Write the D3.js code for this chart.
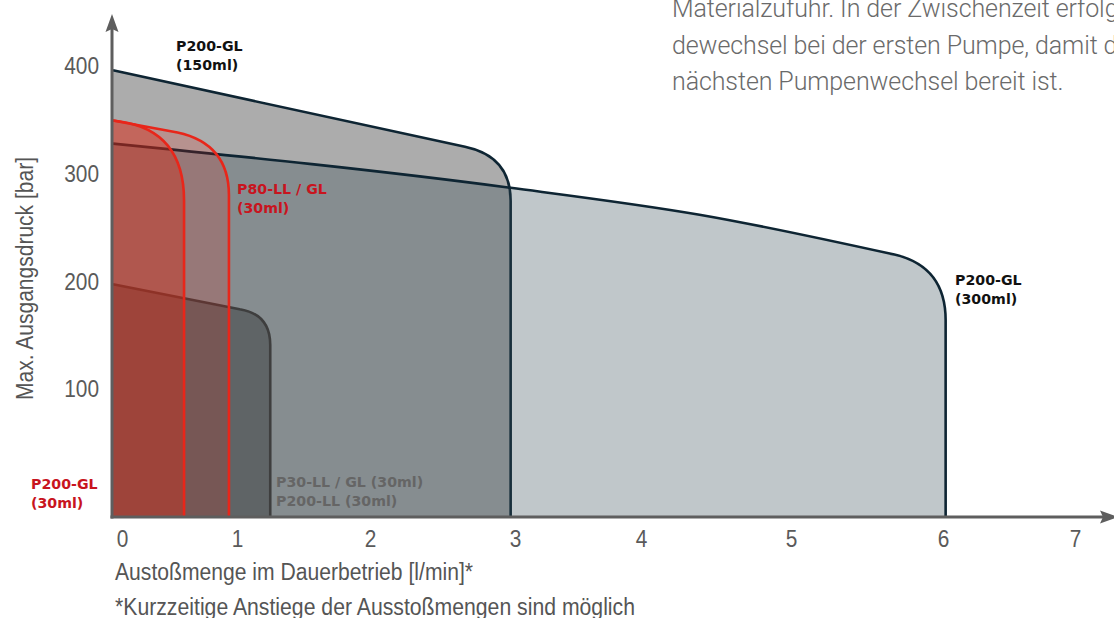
<!DOCTYPE html>
<html>
<head>
<meta charset="utf-8">
<script src="https://cdn.jsdelivr.net/npm/d3@7"></script>
<style>
	body { margin: 0; background: #fff; }
	svg { display: block; }
</style>
</head>
<body>
<svg width="1114" height="618"></svg>
<script>

	// flow [l/min] on x, max. outlet pressure [bar] on y
	var flowTicks = [0, 1, 2, 3, 4, 5, 6, 7];
	var pressureTicks = [100, 200, 300, 400];

	// pump curves as [flow, pressure]
	// the last two points are the knee corner and the point where the curve turns vertical
	var p200gl150 = [[0, 396], [2.655, 325], [2.97, 316], [2.97, 275]];
	var p200gl300 = [[0, 328], [2.97, 287], [4.39, 262], [5.68, 225], [6.02, 214], [6.02, 164]];
	var p30ll = [[0, 197.5], [1.02, 174.3], [1.25, 169.7], [1.25, 141]];
	var p80ll = [[0, 349.5], [0.52, 338.3], [0.935, 328], [0.935, 280]];
	var p200gl30 = [[0, 349.5], [0.056, 348.5], [0.573, 340], [0.573, 275]];

	var label150 = ["P200-GL", "(150ml)"];
	var label300 = ["P200-GL", "(300ml)"];
	var label80 = ["P80-LL / GL", "(30ml)"];
	var label30 = ["P200-GL", "(30ml)"];
	var label30ll = ["P30-LL / GL (30ml)", "P200-LL (30ml)"];

	var intro = [
		"Materialzufuhr. In der Zwischenzeit erfolgt",
		"dewechsel bei der ersten Pumpe, damit die",
		"nächsten Pumpenwechsel bereit ist."
	];

	var svg = d3.select("svg");
	var sans = "'Liberation Sans', Arial, sans-serif";
	var bold = "'DejaVu Sans', Verdana, sans-serif";

	svg.append("rect").attr("width", 1114).attr("height", 618).attr("fill", "#fff");

	// uneven tick spacing in the original, so a piecewise scale
	var x = d3.scaleLinear().domain(flowTicks).range([113, 237, 370, 515, 641, 791, 943, 1075]);
	var y = d3.scaleLinear().domain([-18.5, 400]).range([517, 66]);
	var yBase = y.domain()[0];

	function curve_path(pts, closed){
		var ctx = d3.path();
		var n = pts.length;
		d3.line()
			.x(function(d){ return x(d[0]); })
			.y(function(d){ return y(d[1]); })
			.curve(d3.curveMonotoneX)
			.context(ctx)(pts.slice(0, n - 2));
		ctx.quadraticCurveTo(x(pts[n-2][0]), y(pts[n-2][1]), x(pts[n-1][0]), y(pts[n-1][1]));
		ctx.lineTo(x(pts[n-1][0]), y(yBase));
		if(closed){
			ctx.lineTo(x(0), y(yBase));
			ctx.closePath();
		}
		return ctx.toString();
	}

	var series = [
		{ "data": p200gl150, "fill": "#acacac", "stroke": "#0e2533" },
		{ "data": p200gl300, "fill": "rgba(45,68,78,0.3)", "stroke": "#0e2533" },
		{ "data": p30ll, "fill": "rgba(0,0,0,0.29)", "stroke": "#3e3e3e" },
		{ "data": p80ll, "fill": "rgba(235,30,10,0.18)", "stroke": null },
		{ "data": p200gl30, "fill": "rgba(213,43,22,0.42)", "stroke": null }
	];

	var g = svg.append("g");
	series.forEach(function(s){
		g.append("path").attr("d", curve_path(s.data, true)).attr("fill", s.fill);
		if(s.stroke){
			g.append("path").attr("d", curve_path(s.data, false))
				.attr("fill", "none").attr("stroke", s.stroke).attr("stroke-width", 2.6);
		}
	});

	// red outlines sit on top of everything
	[p80ll, p200gl30].forEach(function(d){
		g.append("path").attr("d", curve_path(d, false))
			.attr("fill", "none").attr("stroke", "#e8261a").attr("stroke-width", 2.6);
	});

	// axes
	var axisColor = "#5e5e5e";
	svg.append("line").attr("x1", 112).attr("x2", 112).attr("y1", 518.5).attr("y2", 28)
		.attr("stroke", axisColor).attr("stroke-width", 3);
	svg.append("path").attr("d", "M112,14L118.5,32L112,29L105.5,32Z").attr("fill", axisColor);
	svg.append("line").attr("x1", 110.5).attr("x2", 1104).attr("y1", 517).attr("y2", 517)
		.attr("stroke", axisColor).attr("stroke-width", 3);
	svg.append("path").attr("d", "M1118,517L1100,510.5L1103,517L1100,523.5Z").attr("fill", axisColor);

	var yAxis = svg.append("g").attr("transform", "translate(112,0)")
		.call(d3.axisLeft(y).tickValues(pressureTicks).tickFormat(d3.format("d")).tickSize(0).tickPadding(13));
	var xAxis = svg.append("g").attr("transform", "translate(0,517)")
		.call(d3.axisBottom(x).tickValues(flowTicks).tickFormat(d3.format("d")).tickSize(0).tickPadding(13));
	[yAxis, xAxis].forEach(function(a){
		a.select(".domain").remove();
		// the original uses a condensed face, squeeze the digits to its width
		a.selectAll("text").attr("font-family", sans).attr("font-size", 24).attr("fill", "#5a5a5a")
			.attr("textLength", function(d){ return String(d).length * 11.6; })
			.attr("lengthAdjust", "spacingAndGlyphs");
	});
	xAxis.selectAll("text").attr("dx", function(d){ return d === 0 ? 9 : 0; });

	// axis titles
	function title(sel, len){
		return sel.attr("font-family", sans).attr("font-size", 23).attr("fill", "#555")
			.attr("textLength", len).attr("lengthAdjust", "spacingAndGlyphs");
	}
	title(svg.append("text").attr("x", 115).attr("y", 580), 358)
		.text("Austoßmenge im Dauerbetrieb [l/min]*");
	title(svg.append("text").attr("x", 115).attr("y", 615), 520)
		.text("*Kurzzeitige Anstiege der Ausstoßmengen sind möglich");
	title(svg.append("text").attr("transform", "translate(157,0) rotate(-90)"), 243)
		.attr("x", -400).attr("y", -124)
		.text("Max. Ausgangsdruck [bar]");

	// series labels
	function add_label(lines, lx, ly, color){
		var t = svg.append("text").attr("font-family", bold).attr("font-weight", "bold")
			.attr("font-size", 14.2).attr("fill", color);
		lines.forEach(function(l, i){
			t.append("tspan").attr("x", lx).attr("y", ly + i * 19).text(l);
		});
	}
	add_label(label150, 176, 51, "#111");
	add_label(label300, 955, 285, "#111");
	add_label(label80, x(1), 194, "#c8141e");
	add_label(label30, 31, 489, "#c8141e");
	add_label(label30ll, 276, 487, "#656565");

	// paragraph fragment at the top right, cut by the page edge as in the original
	var para = svg.append("text").attr("font-family", "Roboto, 'Open Sans', sans-serif")
		.attr("font-weight", 300).attr("font-size", 25).attr("letter-spacing", -0.1).attr("fill", "#6a6a6a");
	intro.forEach(function(l, i){
		para.append("tspan").attr("x", 672).attr("y", 17 + i * 36.5).text(l);
	});

</script>
</body>
</html>
